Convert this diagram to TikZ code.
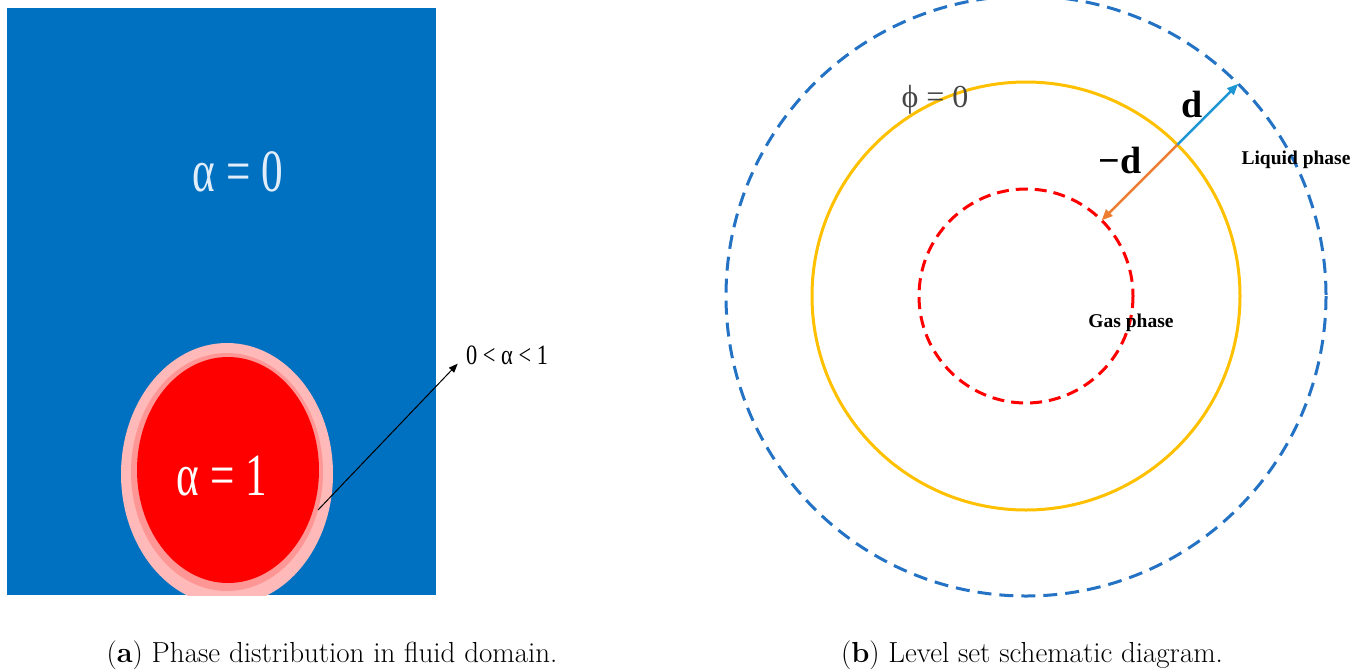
\documentclass[tikz,border=0pt]{standalone}
\usepackage{fontspec}
\newfontfamily\tnr{Liberation Serif}
\usetikzlibrary{arrows.meta,calc}
\definecolor{domblue}{RGB}{0,112,192}
\definecolor{pinkring}{RGB}{255,185,185}
\definecolor{pinkmid}{RGB}{255,150,150}
\definecolor{bubred}{RGB}{255,0,0}
\definecolor{lsblue}{RGB}{35,114,196}
\definecolor{lsyellow}{RGB}{255,192,0}
\definecolor{arrblue}{RGB}{30,150,212}
\definecolor{arrorange}{RGB}{237,125,49}
\definecolor{phigray}{RGB}{70,70,70}
\definecolor{lightwhite}{RGB}{225,238,250}
\tikzset{
  biglabel/.style={font=\tnr\fontsize{60}{60}\selectfont, xscale=0.72, inner sep=0pt},
  caption/.style={font=\fontsize{29}{32}\selectfont, inner sep=0pt},
  phaselabel/.style={font=\tnr\bfseries\fontsize{19.5}{19.5}\selectfont, inner sep=0pt, text=black},
  dlabel/.style={font=\tnr\bfseries\fontsize{38}{38}\selectfont, inner sep=0pt, text=black},
  ring/.style={line width=3pt}
}
\begin{document}
\begin{tikzpicture}[x=1pt,y=-1pt]
\useasboundingbox (0,0) rectangle (1367,670);
% ---------- panel (a) ----------
\fill[domblue] (7,8) rectangle (436,595);
\begin{scope}
  \clip (7,8) rectangle (436,595);
  \fill[pinkring] (227,474) ellipse [x radius=106, y radius=131];
  \fill[pinkmid] (227,472) ellipse [x radius=96, y radius=119];
  \fill[bubred] (228,470) ellipse [x radius=91, y radius=113];
\end{scope}
\node[biglabel, text=lightwhite] (a0) at (238,172) {α = 0};
\node[biglabel, text=white] (a1) at (222,476) {α = 1};
\node[font=\tnr\fontsize{28}{28}\selectfont, xscale=0.8, inner sep=0pt, anchor=west] (amid) at (466,355) {0 < α < 1};
\coordinate (ifc) at (318,510);
\draw[line width=1pt, shorten >=12pt, -{Triangle[length=9pt,width=7pt]}] (ifc) -- (amid.west);
% ---------- panel (b) ----------
\coordinate (c) at (1026,296);
\draw[lsblue, ring, dash pattern=on 14pt off 8pt] (c) circle[radius=300];
\draw[lsyellow, ring] (c) circle[radius=214];
\draw[bubred, ring, dash pattern=on 12pt off 7pt] (c) circle[radius=107];
\coordinate (p0) at ($(c)+(-45:214)$);
\coordinate (pout) at ($(c)+(-45:300)$);
\coordinate (pin) at ($(c)+(-45:107)$);
\draw[arrblue, line width=2.5pt, -{Triangle[length=11pt,width=9pt]}] (p0) -- (pout);
\draw[arrorange, line width=2.5pt, -{Triangle[length=11pt,width=9pt]}] (p0) -- (pin);
\node[dlabel] (dp) at (1192,104) {d};
\node[dlabel] (dm) at (1120,160) {−d};
\node[font=\tnr\fontsize{32}{32}\selectfont, text=phigray, inner sep=0pt] (phi) at (935,100) {ϕ = 0};
\node[phaselabel] (liq) at (1296,160) {Liquid phase};
\node[phaselabel] (gas) at (1131,323) {Gas phase};
% ---------- captions ----------
\node[caption] (capa) at (332,655) {(\textbf{a}) Phase distribution in fluid domain.};
\node[caption] (capb) at (1032,655) {(\textbf{b}) Level set schematic diagram.};
\end{tikzpicture}
\end{document}
